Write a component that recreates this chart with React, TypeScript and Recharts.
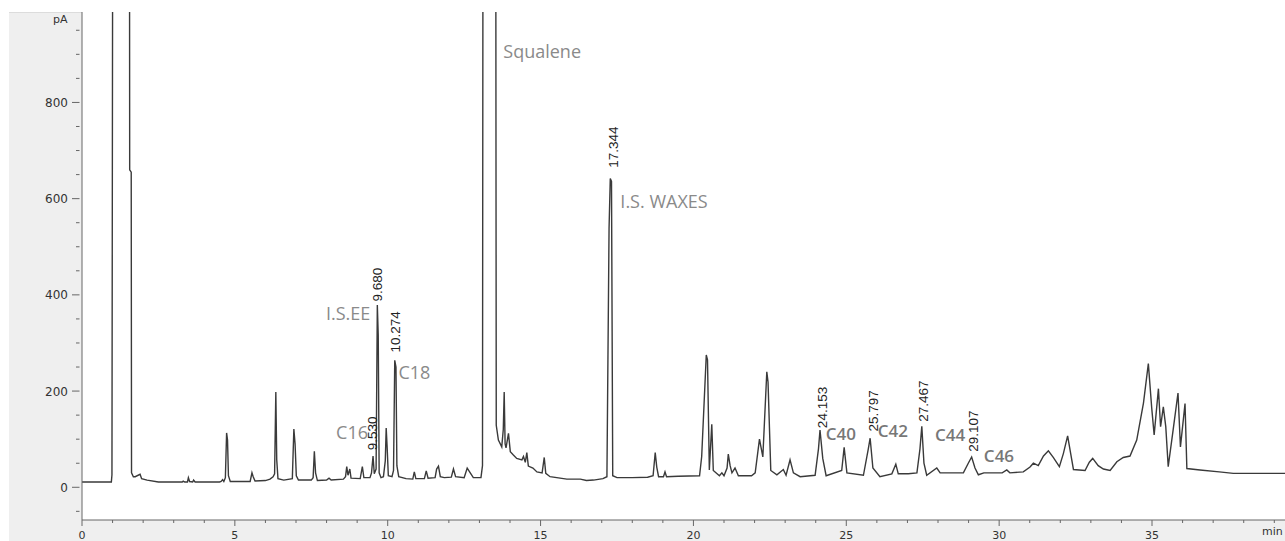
import { ComposedChart, Line, Scatter, XAxis, YAxis, CartesianGrid } from 'recharts';

type Pt = [number, number];

// trace, [time (min), signal (pA)]; 1500 = off scale
const solventFront: Pt[] = [
  [0, 11], [0.96, 11], [0.98, 26], [1.01, 1500], [1.55, 1500], [1.56, 660], [1.61, 655],
  [1.62, 30], [1.68, 22], [1.74, 22], [1.9, 27], [1.95, 18], [2.13, 15], [2.5, 11],
  [3.28, 11], [3.31, 13], [3.36, 11], [3.45, 11], [3.48, 20], [3.52, 12], [3.62, 11],
  [3.65, 15], [3.7, 11], [4.5, 11],
];

const esterRegion: Pt[] = [
  [4.55, 12], [4.6, 16], [4.64, 12], [4.69, 20], [4.73, 113], [4.76, 98], [4.79, 24], [4.85, 12],
  [5.5, 12], [5.56, 30], [5.6, 22], [5.66, 13],
  [6.0, 14], [6.15, 17], [6.25, 22], [6.3, 28], [6.34, 198], [6.37, 57], [6.41, 18],
  [6.6, 15], [6.88, 18], [6.93, 121], [6.97, 90], [7.01, 24], [7.08, 15],
  [7.5, 15], [7.56, 20], [7.6, 75], [7.64, 30], [7.7, 14],
  [8.0, 15], [8.08, 19], [8.15, 15], [8.55, 17], [8.62, 22], [8.66, 43], [8.7, 25], [8.76, 38], [8.8, 19],
  [9.1, 18], [9.17, 43], [9.22, 20], [9.42, 20], [9.47, 30], [9.52, 65], [9.56, 28],
  [9.62, 38], [9.66, 379], [9.69, 316], [9.72, 30], [9.78, 20],
  [9.86, 22], [9.92, 55], [9.95, 123], [9.98, 85], [10.02, 24],
  [10.14, 22], [10.19, 35], [10.23, 264], [10.27, 250], [10.3, 45], [10.36, 22],
  [10.6, 18], [10.82, 17], [10.87, 32], [10.92, 18], [11.2, 18], [11.26, 34], [11.32, 19],
  [11.55, 20], [11.6, 38], [11.66, 44], [11.72, 22], [11.85, 20], [12.08, 21], [12.15, 38],
  [12.22, 22], [12.5, 20], [12.6, 40], [12.7, 30], [12.8, 20], [13.05, 20], [13.1, 45],
];

const squaleneRegion: Pt[] = [
  [13.12, 1500], [13.53, 1500], [13.55, 129], [13.62, 98], [13.73, 84], [13.78, 120], [13.81, 198],
  [13.84, 90], [13.87, 82], [13.95, 112], [14.01, 74], [14.11, 67], [14.22, 60], [14.39, 57],
  [14.44, 64], [14.5, 52], [14.55, 72], [14.6, 44], [14.75, 40], [14.88, 32], [15.05, 30],
  [15.12, 62], [15.17, 29], [15.31, 22], [15.86, 17], [16.3, 17], [16.5, 14], [16.73, 15], [17.04, 18],
];

const waxRegion: Pt[] = [
  [17.17, 22], [17.24, 538], [17.28, 642], [17.32, 636], [17.36, 24], [17.5, 20], [18.0, 20],
  [18.5, 21], [18.68, 24], [18.75, 72], [18.8, 42], [18.86, 22], [19.02, 22], [19.07, 32],
  [19.12, 22], [19.5, 23], [20.2, 24], [20.27, 64], [20.42, 275], [20.46, 265], [20.52, 36],
  [20.6, 131], [20.65, 35], [20.85, 24], [20.93, 30], [21.0, 24], [21.1, 40], [21.14, 69],
  [21.2, 45], [21.26, 30], [21.36, 40], [21.47, 24], [21.9, 24], [22.02, 30], [22.16, 100],
  [22.27, 63], [22.4, 240], [22.44, 219], [22.53, 35], [22.73, 26], [22.94, 37], [23.03, 25],
  [23.16, 57], [23.27, 30], [23.49, 22], [23.98, 25], [24.09, 80], [24.14, 119], [24.23, 60],
  [24.34, 24], [24.85, 35], [24.93, 83], [25.02, 30], [25.56, 25], [25.72, 80], [25.78, 102],
  [25.87, 40], [26.1, 22], [26.49, 28], [26.62, 48], [26.7, 28], [27.03, 28], [27.31, 30],
  [27.41, 80], [27.47, 127], [27.54, 50], [27.63, 25], [27.96, 40], [28.07, 30], [28.83, 30],
  [28.99, 50], [29.1, 63], [29.21, 40], [29.32, 26], [29.5, 30], [30.1, 30], [30.25, 36], [30.35, 30],
];

const lateRegion: Pt[] = [
  [30.79, 32], [31.01, 42], [31.12, 50], [31.28, 45], [31.45, 65], [31.61, 76], [31.77, 62],
  [31.97, 43], [32.1, 70], [32.24, 107], [32.34, 70], [32.43, 37], [32.81, 35], [32.95, 52],
  [33.06, 60], [33.24, 45], [33.41, 38], [33.63, 35], [33.85, 53], [34.06, 62], [34.28, 65],
  [34.5, 98], [34.72, 175], [34.88, 257], [34.99, 165], [35.07, 109], [35.21, 205], [35.28, 126],
  [35.37, 167], [35.45, 126], [35.53, 43], [35.69, 119], [35.85, 196], [35.93, 84], [36.08, 174],
  [36.14, 39], [36.57, 36], [37.2, 32], [37.66, 29], [39.4, 29],
];

// compound names (text start / end anchored at these data positions)
const compoundNames = [
  { t: 13.78, v: 893, text: 'Squalene', anchor: 'start', bold: false },
  { t: 17.61, v: 580, text: 'I.S. WAXES', anchor: 'start', bold: false },
  { t: 9.43, v: 348, text: 'I.S.EE', anchor: 'end', bold: false },
  { t: 10.35, v: 225, text: 'C18', anchor: 'start', bold: false },
  { t: 8.31, v: 100, text: 'C16', anchor: 'start', bold: false },
  { t: 24.33, v: 98, text: 'C40', anchor: 'start', bold: true },
  { t: 26.03, v: 104, text: 'C42', anchor: 'start', bold: true },
  { t: 27.9, v: 97, text: 'C44', anchor: 'start', bold: true },
  { t: 29.5, v: 53, text: 'C46', anchor: 'start', bold: true },
];

// retention time labels, rotated
const retentionLabels = [
  { t: 9.66, v: 77, text: '9.530' },
  { t: 9.81, v: 386, text: '9.680' },
  { t: 10.41, v: 280, text: '10.274' },
  { t: 17.54, v: 664, text: '17.344' },
  { t: 24.36, v: 123, text: '24.153' },
  { t: 26.05, v: 116, text: '25.797' },
  { t: 27.68, v: 136, text: '27.467' },
  { t: 29.32, v: 74, text: '29.107' },
];

const xTicks = Array.from({ length: 40 }, (_, i) => i);
const yTicks = Array.from({ length: 21 }, (_, i) => -50 + i * 50);

const trace = [...solventFront, ...esterRegion, ...squaleneRegion, ...waxRegion, ...lateRegion].map(
  ([t, v]) => ({ t, v })
);

const tickFont = { fontFamily: 'DejaVu Sans', fontSize: 12, fill: '#333' };

const YTick = (props: any) => {
  const { x, y, payload } = props;
  const major = payload.value % 200 === 0;
  return (
    <g>
      <line x1={x - (major ? 10 : 6)} x2={x - 2.5} y1={y} y2={y} stroke="#666" strokeWidth={1} />
      {major && (
        <text x={x - 14} y={y} dy={4.5} textAnchor="end" {...tickFont}>
          {payload.value}
        </text>
      )}
    </g>
  );
};

const XTick = (props: any) => {
  const { x, y, payload } = props;
  const major = payload.value % 5 === 0;
  return (
    <g>
      <line x1={x} x2={x} y1={y} y2={y + (major ? 6 : 3)} stroke="#666" strokeWidth={1} />
      {major && (
        <text x={x} y={y + 19} textAnchor="middle" {...tickFont} fontSize={11}>
          {payload.value}
        </text>
      )}
    </g>
  );
};

const NameShape = (props: any) => {
  const { cx, cy, payload } = props;
  return (
    <text
      x={cx}
      y={cy}
      textAnchor={payload.anchor}
      fontFamily="Open Sans"
      fontSize={payload.bold ? 17 : 18}
      fontWeight={payload.bold ? 600 : 400}
      fill={payload.bold ? '#777' : '#8a8a8a'}
    >
      {payload.text}
    </text>
  );
};

const RtShape = (props: any) => {
  const { cx, cy, payload } = props;
  return (
    <text
      x={cx}
      y={cy}
      transform={`rotate(-90 ${cx} ${cy})`}
      fontFamily="Liberation Sans"
      fontSize={13.5}
      fill="#222"
    >
      {payload.text}
    </text>
  );
};

const App = () => {
  return (
    <div style={{ position: 'fixed', left: 0, top: 0, width: 1285, height: 541, background: '#fff', overflow: 'hidden' }}>
      <div
        style={{
          position: 'absolute',
          left: 9,
          top: 12,
          width: 1276,
          height: 529,
          background: '#efefef',
          borderTop: '1px solid #dcdcdc',
          boxSizing: 'border-box',
        }}
      />
      <div style={{ position: 'absolute', left: 0, top: 0 }}>
        <ComposedChart width={1285} height={541} data={trace} margin={{ top: 12, right: 0, bottom: 0, left: 0 }}>
          <CartesianGrid horizontal={false} vertical={false} fill="#fff" />
          <XAxis
            type="number"
            dataKey="t"
            domain={[0, 39.35]}
            ticks={xTicks}
            interval={0}
            allowDataOverflow
            height={21}
            tickSize={0}
            tickMargin={0}
            tickLine={false}
            tick={<XTick />}
            axisLine={{ stroke: '#666' }}
          />
          <YAxis
            type="number"
            dataKey="v"
            domain={[-68, 988]}
            ticks={yTicks}
            interval={0}
            allowDataOverflow
            width={82}
            tickSize={0}
            tickMargin={0}
            tickLine={false}
            tick={<YTick />}
            axisLine={{ stroke: '#666' }}
          />
          <Line
            type="linear"
            dataKey="v"
            stroke="#3a3a3a"
            strokeWidth={1.4}
            dot={false}
            activeDot={false}
            isAnimationActive={false}
          />
          <Scatter data={compoundNames} dataKey="v" shape={<NameShape />} isAnimationActive={false} />
          <Scatter data={retentionLabels} dataKey="v" shape={<RtShape />} isAnimationActive={false} />
        </ComposedChart>
      </div>
      <div style={{ position: 'absolute', left: 53, top: 13, fontFamily: 'DejaVu Sans', fontSize: 11, color: '#333' }}>pA</div>
      <div style={{ position: 'absolute', left: 1262, top: 525, fontFamily: 'DejaVu Sans', fontSize: 11, color: '#333' }}>min</div>
    </div>
  );
};

export default App;
